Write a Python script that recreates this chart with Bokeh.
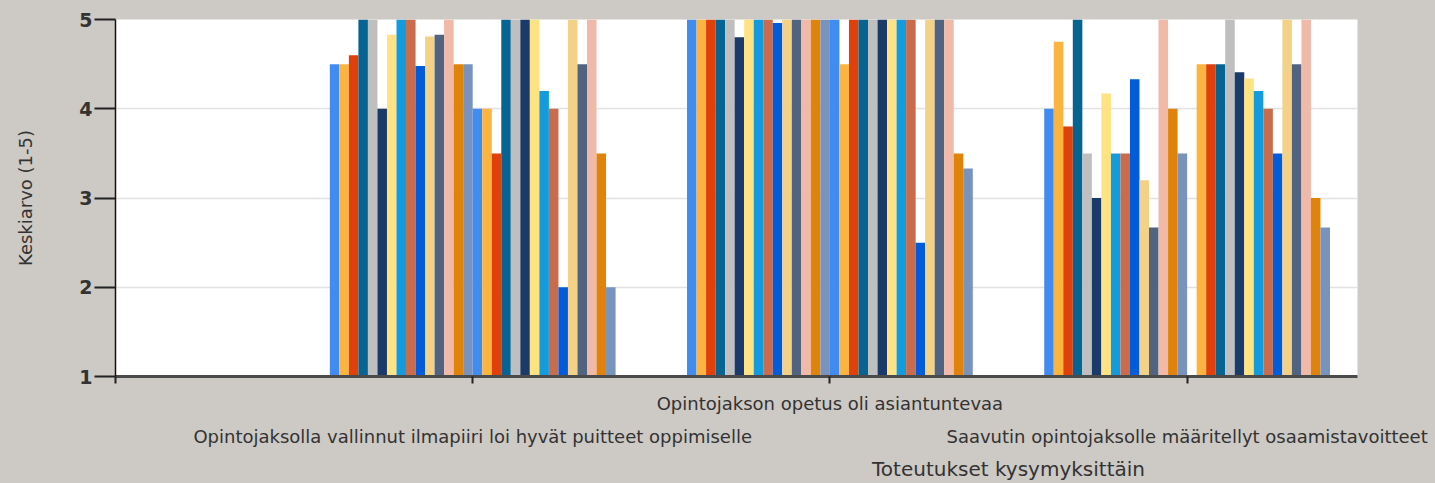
from bokeh.plotting import figure
from bokeh.models import Range1d, FixedTicker, ColumnDataSource, LinearAxis
from bokeh.embed import file_html
from bokeh.resources import INLINE

# ---- data ----
categories = [
    "Opintojaksolla vallinnut ilmapiiri loi hyvät puitteet oppimiselle",
    "Opintojakson opetus oli asiantuntevaa",
    "Saavutin opintojaksolle määritellyt osaamistavoitteet",
]
x_title = "Toteutukset kysymyksittäin"
y_title = "Keskiarvo (1-5)"
y_ticks = [1, 2, 3, 4, 5]

# mean values of the 30 implementations (series) for each question
q1_values = [4.5, 4.5, 4.6, 5, 5, 4, 4.83, 5, 5, 4.48, 4.81, 4.83, 5, 4.5, 4.5,
             4, 4, 3.5, 5, 5, 5, 5, 4.2, 4, 2, 5, 4.5, 5, 3.5, 2]
q2_values = [5, 5, 5, 5, 5, 4.8, 5, 5, 5, 4.96, 5, 5, 5, 5, 5,
             5, 4.5, 5, 5, 5, 5, 5, 5, 5, 2.5, 5, 5, 5, 3.5, 3.33]
q3_values = [4, 4.75, 3.8, 5, 3.5, 3, 4.17, 3.5, 3.5, 4.33, 3.2, 2.67, 5, 4, 3.5,
             None, 4.5, 4.5, 4.5, 5, 4.41, 4.34, 4.2, 4, 3.5, 5, 4.5, 5, 3, 2.67]

palette = ["#418CF0", "#FCB441", "#E0400A", "#056492", "#BFBFBF", "#1A3B69",
           "#FFE382", "#129CDD", "#CA6B4B", "#005CDB", "#F3D288", "#506381",
           "#F1B9A8", "#E0830A", "#7893BE"]

BG = "#CDC9C4"
TXT = "#333333"
FONT = "DejaVu Sans"

all_values = [q1_values, q2_values, q3_values]
n_series = len(q1_values)
group_frac = 0.8
bw = group_frac / n_series

xs, tops, cols = [], [], []
for ci, vals in enumerate(all_values):
    for si, v in enumerate(vals):
        if v is None:
            continue
        xs.append((ci + 1) - group_frac / 2 + (si + 0.5) * bw)
        tops.append(v)
        cols.append(palette[si % len(palette)])
src = ColumnDataSource(dict(x=xs, top=tops, color=cols))

p = figure(frame_width=1242, frame_height=357,
           x_range=Range1d(0, 3.477), y_range=Range1d(1, 5),
           output_backend="svg", toolbar_location=None,
           min_border_left=115, min_border_right=78,
           min_border_top=19, min_border_bottom=107,
           background_fill_color="white", border_fill_color=BG,
           outline_line_color=None)

p.vbar(x="x", top="top", bottom=1, width=bw, fill_color="color",
       line_color=None, source=src)

# y axis
p.yaxis.ticker = FixedTicker(ticks=y_ticks)
p.yaxis.major_tick_out = 21
p.yaxis.major_tick_in = 0
p.yaxis.minor_tick_line_color = None
p.yaxis.major_tick_line_color = "#222222"
p.yaxis.major_tick_line_width = 2
p.yaxis.axis_line_color = "#111111"
p.yaxis.axis_line_width = 1.5
p.yaxis.major_label_standoff = 2
p.yaxis.major_label_text_font = FONT
p.yaxis.major_label_text_font_style = "bold"
p.yaxis.major_label_text_font_size = "19px"
p.yaxis.major_label_text_color = TXT
p.yaxis.axis_label = y_title
p.yaxis.axis_label_text_font = FONT
p.yaxis.axis_label_text_font_style = "normal"
p.yaxis.axis_label_text_font_size = "18px"
p.yaxis.axis_label_text_color = TXT
p.yaxis.axis_label_standoff = 40

# x axis: ticks at 0..3, middle category label on the first row
p.xaxis.ticker = FixedTicker(ticks=[0, 1, 2, 3])
p.xaxis.major_label_overrides = {0: "", 1: "", 2: categories[1], 3: ""}
p.xaxis.major_tick_out = 7
p.xaxis.major_tick_in = 0
p.xaxis.minor_tick_line_color = None
p.xaxis.major_tick_line_color = "#222222"
p.xaxis.major_tick_line_width = 2
p.xaxis.axis_line_color = "#4a4a4a"
p.xaxis.axis_line_width = 3
p.xaxis.major_label_standoff = 9
p.xaxis.major_label_text_font = FONT
p.xaxis.major_label_text_font_size = "18px"
p.xaxis.major_label_text_color = TXT

# second (staggered) row of category labels
row2 = LinearAxis(ticker=FixedTicker(ticks=[1, 2, 3]),
                  major_label_overrides={1: categories[0], 2: "", 3: categories[2]},
                  axis_line_color=None, major_tick_line_color=None,
                  minor_tick_line_color=None, major_tick_out=0, major_tick_in=0,
                  major_label_standoff=9,
                  major_label_text_font=FONT, major_label_text_font_size="18px",
                  major_label_text_color=TXT)
p.add_layout(row2, "below")

# axis title row (centred at x = 2.5 as in the original)
title_row = LinearAxis(ticker=FixedTicker(ticks=[2.5]),
                       major_label_overrides={2.5: x_title},
                       axis_line_color=None, major_tick_line_color=None,
                       minor_tick_line_color=None, major_tick_out=0, major_tick_in=0,
                       major_label_standoff=7,
                       major_label_text_font=FONT, major_label_text_font_size="20px",
                       major_label_text_color=TXT)
p.add_layout(title_row, "below")

# grid
p.xgrid.visible = False
p.ygrid.ticker = FixedTicker(ticks=[2, 3, 4])
p.ygrid.grid_line_color = "#E2E2E2"
p.ygrid.grid_line_width = 1.5

html = file_html(p, INLINE)
html = html.replace("<head>", "<head><style>html,body{background:%s;}</style>" % BG, 1)
open("out.html", "w").write(html)
